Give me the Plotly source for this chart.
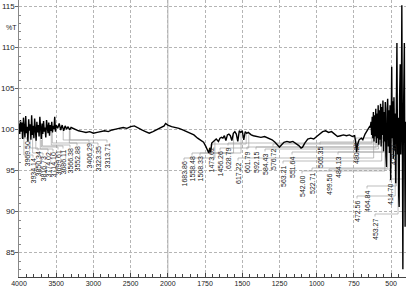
import numpy as np
import plotly.graph_objects as go

# ---------------- data ----------------
wavenumber = [4000,3990,3980,3970,3960,3950,3940,3930,3920,3910,
              3900,3890,3880,3870,3860,3850,3840,3830,3820,3810,
              3800,3790,3780,3770,3760,3750,3740,3730,3720,3710,
              3700,3690,3680,3670,3660,3650,3640,3630,3620,3610,
              3600,3590,3580,3570,3560,3550,3540,3530,3520,3510,3500,
              3480,3460,3440,3420,3400,3380,3360,3340,3320,3300,
              3250,3200,3150,3100,3050,3000,2950,2900,2850,2800,2750,2700,2650,2600,
              2550,2500,2450,2400,2350,2300,2250,2200,2150,2100,2050,2030,2000,
              1975,1950,1925,1900,1875,1850,1825,1800,1780,1760,1745,1735,1725,1718,
              1712,1705,1690,1675,1660,1650,1640,1630,1620,1610,1600,1590,1580,1570,
              1560,1550,1540,1530,1520,1510,1500,1490,1480,1470,1460,1450,1440,1425,
              1400,1375,1350,1325,1300,1280,1260,1250,1240,1220,1200,1180,1160,1140,
              1120,1105,1095,1080,1060,1040,1020,1000,980,960,940,920,900,880,860,840,
              820,800,780,760,745,738,732,726,715,700,690,675,660,645,
              640,635,631,627,623,619,615,611,607,603,599,595,591,587,583,579,575,571,
              567,563,559,555,551,547,543,539,535,531,527,523,519,515,511,507,503,499,
              496,493,489,485,481,477,473,469,465,461,457,453,449,446,443,439,435,431,
              428,424,421,418,414,411,408,406,403,400]
transmittance = [100.8,99.5,101.2,99.8,100.9,98.9,101.5,100.2,99.1,101.7,
                 99.6,100.4,98.6,101.3,99.9,100.7,98.8,101.8,99.4,100.5,
                 99.0,101.4,100.1,98.7,101.0,99.7,100.6,99.2,101.6,100.0,
                 98.9,100.8,99.5,101.1,99.8,100.3,99.1,101.2,100.4,99.6,
                 100.9,99.3,100.6,99.9,101.0,99.7,100.5,100.1,101.6,99.8,100.6,
                 100.2,100.8,100.0,100.6,99.9,100.5,100.1,100.4,100.0,100.3,
                 100.1,99.9,99.8,99.7,99.8,99.6,99.7,99.8,99.9,99.8,100.0,100.1,100.2,100.3,
                 100.2,100.4,100.5,100.2,100.0,99.8,99.6,99.8,100.0,100.2,100.5,100.8,100.6,
                 100.4,100.3,100.2,100.0,99.8,99.6,99.4,99.0,98.8,98.5,98.0,97.6,97.2,97.8,
                 97.3,98.4,98.7,98.9,98.6,99.0,99.1,99.0,99.3,98.7,99.4,99.5,99.3,98.7,
                 99.6,99.8,99.5,98.6,99.9,99.7,99.9,98.8,99.8,99.6,99.7,99.5,99.4,99.3,
                 99.2,99.1,99.2,99.0,98.8,98.5,98.0,97.9,98.1,98.5,98.6,98.5,98.6,98.4,
                 98.1,97.8,97.9,98.4,98.9,99.0,98.9,99.2,99.5,99.8,99.9,99.7,99.8,99.5,99.2,99.3,
                 99.4,99.3,99.4,99.2,99.3,98.5,97.3,98.2,98.8,99.0,98.8,99.5,100.0,100.4,
                 100.3,101.0,99.4,101.6,99.0,102.2,98.6,101.8,99.2,102.6,98.4,102.0,99.0,103.0,
                 98.2,102.4,98.8,103.2,98.0,102.8,99.4,103.6,97.4,102.2,98.6,103.4,96.8,95.5,
                 102.6,103.8,98.0,102.4,97.2,103.0,93.9,101.0,107.7,99.0,103.5,96.5,104.0,97.5,
                 102.0,93.5,104.5,110.6,97.0,101.5,92.0,90.6,104.0,108.0,97.0,102.5,115.2,99.0,
                 83.0,100.0,104.0,110.6,96.0,88.2,101.0,99.5]

x_tick_labels = ["4000", "3500", "3000", "2500", "2000", "1750", "1500", "1250", "1000", "750", "500"]
y_tick_values = [85, 90, 95, 100, 105, 110, 115]

peak_labels = ["3969.50", "3934.14", "3850.34", "3816.73", "3774.02", "3714.10", "3699.61",
               "3686.11", "3566.38", "3552.88", "3406.29", "3323.35", "3313.71",
               "1683.86", "1558.48", "1508.33", "1473.62", "1456.26", "628.79", "617.22",
               "601.79", "592.15", "584.43", "576.72", "563.21", "551.64", "542.00",
               "522.71", "505.35", "499.56", "484.13", "480.28", "472.56", "464.84",
               "453.27", "414.70", "422.41"]
# label placement (pixel column and top edge of the rotated label)
label_px = [27, 33, 38, 43, 48, 53, 58, 63, 70, 77, 89, 98, 107,
            184, 192, 200, 211, 220, 228, 238, 247, 256, 265, 273, 283, 292, 302,
            312, 320, 329, 338, 356, 357, 367, 375, 390, 393]
label_top = [141, 158, 151, 156, 152, 152, 150, 149, 148, 146, 143, 146, 143,
             161, 156, 156, 147, 151, 146, 161, 150, 150, 152, 147, 164, 155, 174,
             171, 145, 172, 155, 141, 199, 189, 217, 182, 142]

# ---------------- axis geometry ----------------
W, H = 406, 290
PX_L, PX_R, PY_T, PY_B = 19, 406, 0, 277
U_L, U_R = 3000, 400
T_T, T_B = 115.85, 82.07
FONT = "Liberation Sans, Arial, sans-serif"


def to_u(w):
    w = np.asarray(w, float)
    return np.where(w > 2000, 2000 + (w - 2000) / 2.0, w)


def px_to_u(px):
    return U_L + (px - PX_L) / (PX_R - PX_L) * (U_R - U_L)


def py_to_T(py):
    return T_T + (py - PY_T) / (PY_B - PY_T) * (T_B - T_T)


def T_to_py(T):
    return PY_T + (T - T_T) / (T_B - T_T) * (PY_B - PY_T)


wn = np.array(wavenumber, float)
tr = np.array(transmittance, float)
u = to_u(wn)

fig = go.Figure()

# leader lines
lx, ly = [], []
order = np.argsort(wn)
for txt, px, top in zip(peak_labels, label_px, label_top):
    w = float(txt)
    pu = float(to_u(w))
    pT = float(np.interp(w, wn[order], tr[order]))
    p_py = T_to_py(pT) + 1.5
    yh = top - 3
    lu = px_to_u(px)
    lx += [lu, lu, pu, pu, None]
    ly += [py_to_T(top - 0.5), py_to_T(yh), py_to_T(yh), py_to_T(min(p_py, yh)), None]

fig.add_trace(go.Scatter(x=lx, y=ly, mode="lines", line=dict(color="#a0a0a0", width=0.7),
                         hoverinfo="skip", showlegend=False))

fig.add_trace(go.Scatter(x=u, y=tr, mode="lines", line=dict(color="black", width=1.4),
                         showlegend=False))

annotations = []
for txt, px, top in zip(peak_labels, label_px, label_top):
    annotations.append(dict(x=px_to_u(px), y=py_to_T(top), xref="x", yref="y", text=txt,
                            textangle=-90, xanchor="center", yanchor="top", showarrow=False,
                            borderpad=0, font=dict(size=7, color="#222", family=FONT)))
annotations.append(dict(x=11 / W, y=(PY_B - 28) / (PY_B - PY_T), xref="paper", yref="paper",
                        text="%T", showarrow=False, xanchor="center", yanchor="middle",
                        font=dict(size=7, color="#222", family=FONT)))
# y tick labels beside the left axis (paper coordinates)
for v in y_tick_values:
    annotations.append(dict(x=16 / W, y=(PY_B - T_to_py(v)) / (PY_B - PY_T), xref="paper",
                            yref="paper", text=str(v), showarrow=False, xanchor="right",
                            yanchor="middle", borderpad=0,
                            font=dict(size=8, color="#222", family=FONT)))

tick_u = [float(to_u(int(t))) for t in x_tick_labels]
minor_u = list(np.arange(400, 3001, 50))
minor_y = [v for v in range(83, 116) if v % 5 != 0]

fig.update_layout(
    width=W, height=H,
    margin=dict(l=0, r=0, t=PY_T, b=H - PY_B, autoexpand=False),
    paper_bgcolor="white", plot_bgcolor="white",
    annotations=annotations,
    shapes=[dict(type="line", xref="x", yref="paper", x0=2000, x1=2000, y0=0, y1=1,
                 line=dict(color="#b0b0b0", width=1), layer="below")],
    xaxis=dict(domain=[PX_L / W, PX_R / W], range=[U_L, U_R], tickmode="array",
               tickvals=tick_u, ticktext=x_tick_labels,
               showgrid=True, gridcolor="#b5b5b5", griddash="3px,2px", gridwidth=1,
               showline=True, linecolor="#444", linewidth=1, automargin=False,
               ticks="inside", ticklen=4, tickcolor="#444",
               minor=dict(tickmode="array", tickvals=minor_u, ticks="inside", ticklen=3,
                          tickcolor="#444", showgrid=False),
               tickfont=dict(size=7, color="#222", family=FONT),
               zeroline=False),
    yaxis=dict(range=[T_B, T_T], tickmode="array", tickvals=y_tick_values,
               showticklabels=False, automargin=False,
               showgrid=True, gridcolor="#b5b5b5", griddash="3px,2px", gridwidth=1,
               showline=True, linecolor="#888", linewidth=1,
               ticks="outside", ticklen=3, tickcolor="#666",
               minor=dict(tickmode="array", tickvals=minor_y, ticks="inside", ticklen=2,
                          tickcolor="#888", showgrid=False),
               zeroline=False),
)

fig.write_html("out.html")
